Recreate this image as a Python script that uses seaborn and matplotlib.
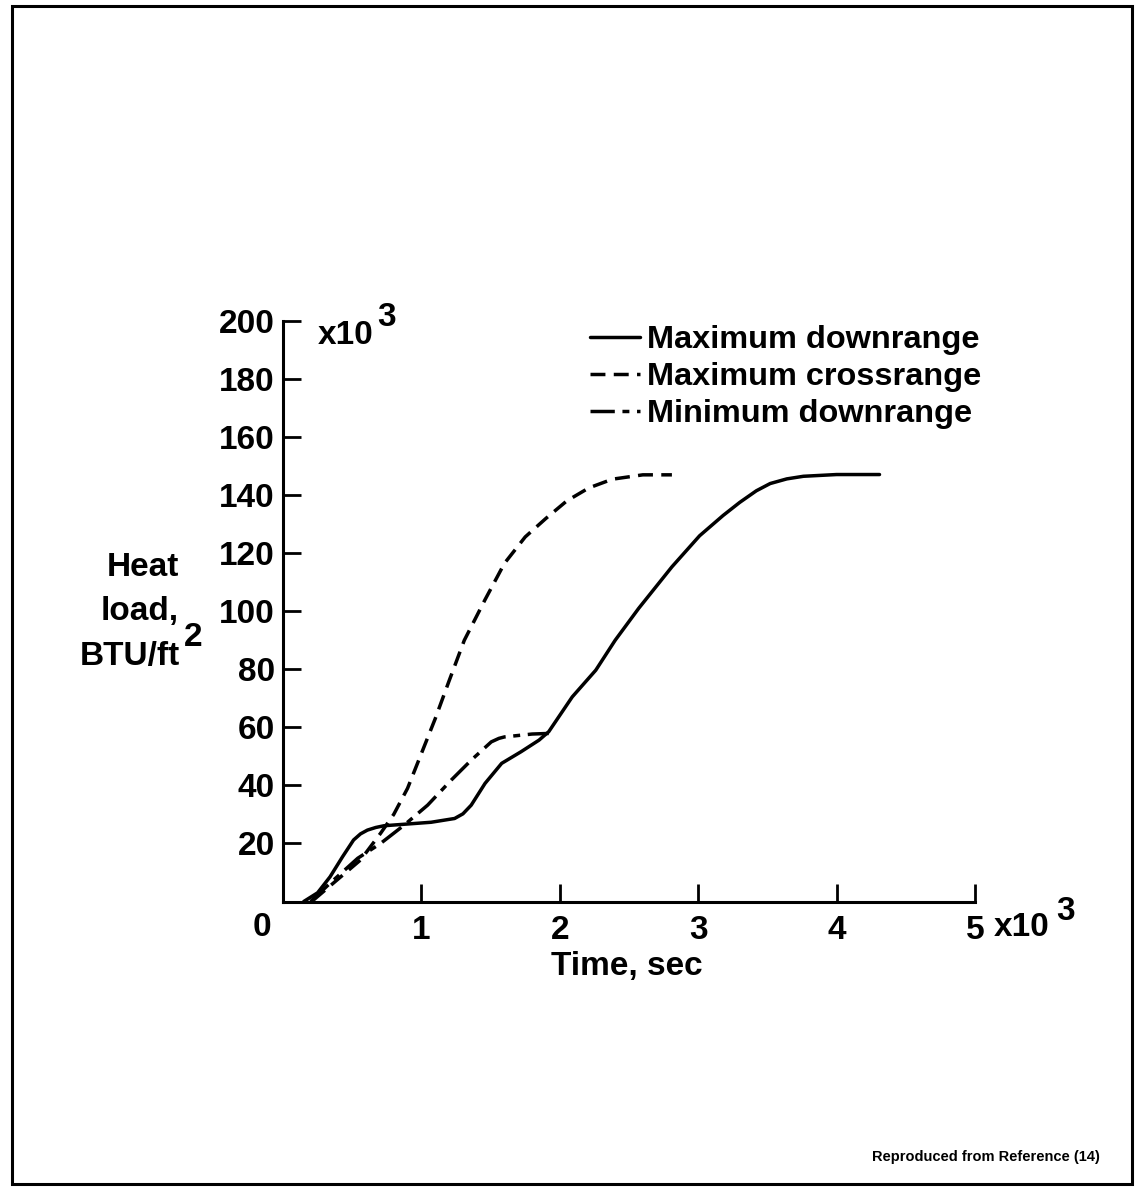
import numpy as np
import pandas as pd
import matplotlib
matplotlib.use("Agg")
import matplotlib.pyplot as plt
import seaborn as sns
from matplotlib.lines import Line2D
from matplotlib.patches import Rectangle

# Heat load histories for three entry trajectories (time in 10^3 s, load in 10^3 BTU/ft^2)
series_names = ["Maximum downrange", "Maximum crossrange", "Minimum downrange"]

max_down_t = [0.15, 0.25, 0.34, 0.43, 0.51, 0.56, 0.61, 0.67, 0.73, 0.90, 1.07, 1.24,
              1.30, 1.36, 1.46, 1.58, 1.72, 1.85, 1.92, 2.09, 2.26, 2.40, 2.57, 2.81,
              3.01, 3.18, 3.30, 3.42, 3.52, 3.64, 3.76, 4.00, 4.31]
max_down_q = [0.0, 3.0, 8.5, 15.4, 21.2, 23.3, 24.6, 25.5, 26.1, 26.7, 27.3, 28.6,
              30.2, 33.2, 40.7, 47.6, 51.6, 55.6, 58.5, 70.5, 79.7, 90.0, 101.0, 115.3,
              126.0, 133.0, 137.5, 141.5, 144.0, 145.6, 146.5, 147.1, 147.1]

max_cross_t = [0.22, 0.39, 0.56, 0.705, 0.80, 0.90, 1.00, 1.10, 1.20, 1.31, 1.46, 1.60,
               1.75, 1.90, 2.05, 2.21, 2.38, 2.60, 2.81]
max_cross_q = [0.5, 7.4, 14.3, 23.5, 30.0, 39.0, 51.0, 63.0, 76.0, 90.0, 104.0, 116.5,
               125.6, 132.0, 138.0, 142.5, 145.5, 147.0, 147.0]

min_down_t = [0.20, 0.34, 0.54, 0.705, 0.875, 1.045, 1.215, 1.36, 1.505, 1.56, 1.60, 1.80, 1.92]
min_down_q = [0.0, 6.3, 14.9, 20.0, 26.3, 33.2, 41.8, 48.7, 55.0, 56.2, 56.7, 57.7, 57.9]

y_ticks = [20, 40, 60, 80, 100, 120, 140, 160, 180, 200]
x_ticks = [1, 2, 3, 4, 5]

df = pd.concat([
    pd.DataFrame({"time": max_down_t, "heat": max_down_q, "Trajectory": series_names[0]}),
    pd.DataFrame({"time": max_cross_t, "heat": max_cross_q, "Trajectory": series_names[1]}),
    pd.DataFrame({"time": min_down_t, "heat": min_down_q, "Trajectory": series_names[2]}),
], ignore_index=True)

dash_styles = {
    series_names[0]: "",
    series_names[1]: (4.3, 2.4),
    series_names[2]: (7.0, 2.2, 2.0, 2.2),
}

sns.set_theme(style="white")
plt.rcParams["font.family"] = ["Liberation Sans", "DejaVu Sans"]
plt.rcParams["font.weight"] = "bold"
plt.rcParams["text.color"] = "black"

W, H = 1140, 1187
FS = 24
fig = plt.figure(figsize=(W / 100, H / 100), dpi=100)
fig.patch.set_facecolor("white")


def fpos(x, y):
    return x / W, 1 - y / H


ax = fig.add_axes([283 / W, 1 - 901.5 / H, (975 - 283) / W, (901.5 - 321) / H])
ax.set_facecolor("white")

lw = 2.5
sns.lineplot(data=df, x="time", y="heat", style="Trajectory", dashes=dash_styles,
             color="black", linewidth=lw, estimator=None, sort=False,
             legend=False, ax=ax)

ax.set_xlim(0, 5)
ax.set_ylim(0, 200)
ax.set_xticks(x_ticks)
ax.set_xticklabels([str(v) for v in x_ticks])
ax.set_yticks(y_ticks)
ax.set_yticklabels([str(v) for v in y_ticks])
ax.set_xlabel("")
ax.set_ylabel("")
for side in ("top", "right"):
    ax.spines[side].set_visible(False)
for side in ("left", "bottom"):
    ax.spines[side].set_color("black")
    ax.spines[side].set_linewidth(2.2)
ax.tick_params(axis="both", which="major", bottom=True, left=True, direction="in",
               length=13, width=2.0, color="black", labelcolor="black",
               labelsize=FS)
ax.tick_params(axis="x", pad=10)
ax.tick_params(axis="y", pad=6)
for lab in ax.get_xticklabels() + ax.get_yticklabels():
    lab.set_fontweight("bold")

# Legend
handles = [Line2D([], [], color="black", linewidth=lw, linestyle="-"),
           Line2D([], [], color="black", linewidth=lw, dashes=dash_styles[series_names[1]]),
           Line2D([], [], color="black", linewidth=lw, dashes=dash_styles[series_names[2]])]
leg = ax.legend(handles, series_names, loc="upper left",
                bbox_to_anchor=fpos(590, 325), bbox_transform=fig.transFigure,
                frameon=False, fontsize=23.4, handlelength=1.55, handletextpad=0.2,
                labelspacing=0.22, borderpad=0, borderaxespad=0, labelcolor="black")
for t in leg.get_texts():
    t.set_fontweight("bold")

txt = dict(color="black", fontsize=FS, fontweight="bold")
# Multipliers and shared origin label
fig.text(*fpos(318, 336), "x10", ha="left", va="center", **txt)
fig.text(*fpos(377, 318), "3", ha="left", va="center", **txt)
fig.text(*fpos(994, 928), "x10", ha="left", va="center", **txt)
fig.text(*fpos(1056, 911), "3", ha="left", va="center", **txt)
fig.text(*fpos(262, 928), "0", ha="center", va="center", **txt)

# Axis titles
fig.text(*fpos(627, 966), "Time, sec", ha="center", va="center", **txt)
fig.text(*fpos(143, 567), "Heat", ha="center", va="center", **txt)
fig.text(*fpos(140, 612), "load,", ha="center", va="center", **txt)
fig.text(*fpos(80, 656), "BTU/ft", ha="left", va="center", **txt)
fig.text(*fpos(184, 638), "2", ha="left", va="center", **txt)

fig.text(*fpos(1100, 1157), "Reproduced from Reference (14)", ha="right", va="center",
         color="black", fontsize=10.5, fontweight="bold")

# Page frame
fig.patches.append(Rectangle(fpos(12, 1184), (1132 - 12) / W, (1184 - 6) / H,
                             transform=fig.transFigure, fill=False,
                             edgecolor="black", linewidth=2.2))

fig.savefig("out.png", dpi=100, facecolor="white")
